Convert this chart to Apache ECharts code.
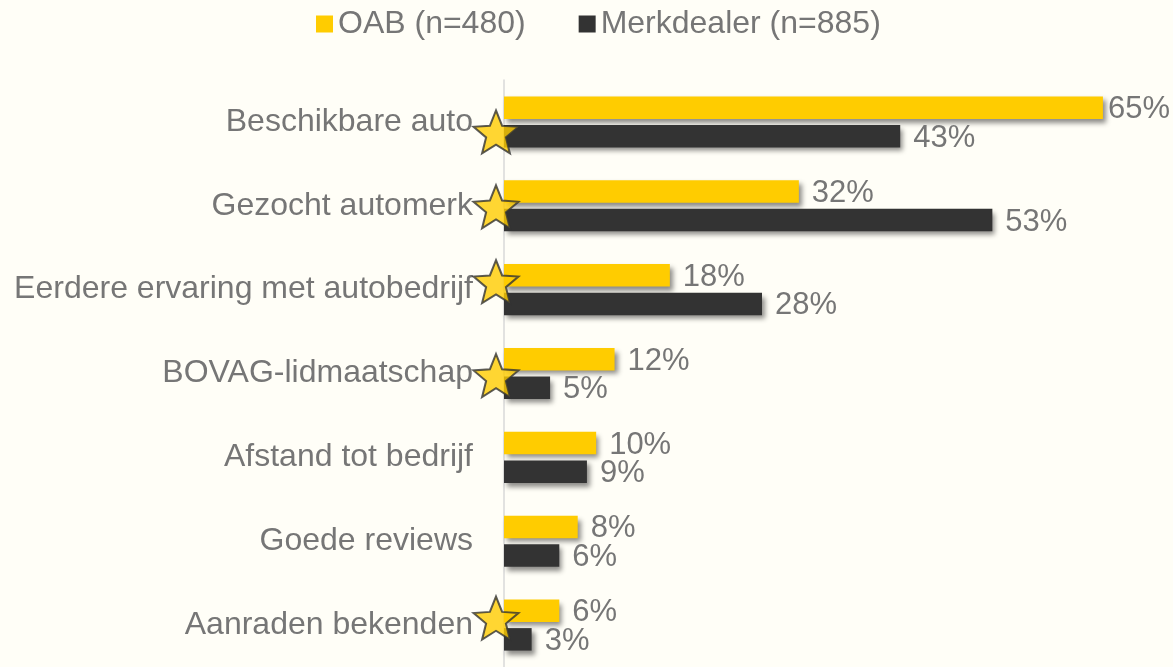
<!DOCTYPE html>
<html>
<head>
<meta charset="utf-8">
<script src="https://cdn.jsdelivr.net/npm/echarts@6/dist/echarts.min.js"></script>
<style>
html,body{margin:0;padding:0;background:#fffef7;}
#chart{width:1173px;height:667px;}
</style>
</head>
<body>
<div id="chart"></div>
<script>
// ---- data ----
var categories = ['Beschikbare auto', 'Gezocht automerk', 'Eerdere ervaring met autobedrijf', 'BOVAG-lidmaatschap', 'Afstand tot bedrijf', 'Goede reviews', 'Aanraden bekenden'];
var seriesNames = ['OAB (n=480)', 'Merkdealer (n=885)'];
var oabValues = [65, 32, 18, 12, 10, 8, 6];
var merkdealerValues = [43, 53, 28, 5, 9, 6, 3];
var starred = [true, true, true, true, false, false, true];

// ---- style ----
var TEXT = '#767676';
var FONT = '"Liberation Sans", Arial, sans-serif';
var starYOffsets = [10, 1, -8, 2, 0, 0, -7];
var STAR = 'path://M50,0 L62.93,32.2 L97.55,34.55 L70.92,56.8 L79.39,90.45 L50,72 L20.61,90.45 L29.08,56.8 L2.45,34.55 L37.07,32.2 Z';

var maxVal = Math.max.apply(null, oabValues.concat(merkdealerValues));

function barData(vals) {
  return vals.map(function (v) {
    var d = { value: v };
    if (v === maxVal) d.label = { distance: 5 };
    return d;
  });
}

var starData = [];
categories.forEach(function (c, i) {
  if (starred[i]) starData.push({ value: [0, c], symbolOffset: [-8, starYOffsets[i]] });
});

var barStyleBase = {
  shadowColor: 'rgba(0,0,0,0.45)',
  shadowBlur: 5,
  shadowOffsetX: 3,
  shadowOffsetY: 4
};

var labelStyle = { show: true, position: 'right', distance: 13, offset: [0, 2], color: TEXT, fontSize: 31, fontFamily: FONT, formatter: '{c}%' };

var chart = echarts.init(document.getElementById('chart'));
chart.setOption({
  backgroundColor: '#fffef7',
  textStyle: { fontFamily: FONT },
  legend: {
    data: seriesNames,
    left: 311,
    top: 3,
    itemWidth: 17,
    itemHeight: 17,
    itemGap: 53,
    icon: 'rect',
    textStyle: { color: TEXT, fontSize: 32, fontFamily: FONT }
  },
  grid: { left: 504, right: 24, top: 80, bottom: -9, containLabel: false },
  xAxis: {
    type: 'value', min: 0, max: 70,
    show: false, splitLine: { show: false }
  },
  yAxis: {
    type: 'category',
    data: categories,
    inverse: true,
    axisLine: { show: true, lineStyle: { color: '#d9d9d9', width: 1.5 } },
    axisTick: { show: false },
    axisLabel: { color: TEXT, fontSize: 32, fontFamily: FONT, margin: 31 }
  },
  series: [
    {
      name: seriesNames[0], type: 'bar',
      data: barData(oabValues),
      barWidth: 22.5, barGap: '27%',
      itemStyle: Object.assign({ color: '#ffcc00' }, barStyleBase),
      label: labelStyle
    },
    {
      name: seriesNames[1], type: 'bar',
      data: barData(merkdealerValues),
      barWidth: 22.5, barGap: '27%',
      itemStyle: Object.assign({ color: '#333333' }, barStyleBase),
      label: labelStyle
    },
    {
      name: 'star', type: 'scatter',
      data: starData,
      symbol: STAR,
      symbolSize: [45, 43],
      symbolKeepAspect: false,
      clip: false,
      z: 10,
      silent: true,
      itemStyle: { color: '#ffcc00', borderColor: '#333333', borderWidth: 2 }
    }
  ]
});
</script>
</body>
</html>
